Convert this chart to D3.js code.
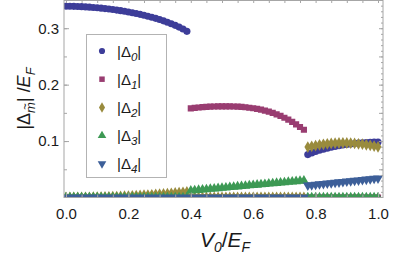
<!DOCTYPE html>
<html>
<head>
<meta charset="utf-8">
<script src="https://cdn.jsdelivr.net/npm/d3@7"></script>
<style>
  html, body { margin: 0; padding: 0; background: #fff; }
  svg { display: block; font-family: "Liberation Sans", Arial, sans-serif; }
</style>
</head>
<body>
<script>
// V0/EF sample points
const xs = [0,0.0125,0.025,0.0375,0.05,0.0625,0.075,0.0875,0.1,0.1125,0.125,0.1375,0.15,0.1625,0.175,0.1875,
  0.2,0.2125,0.225,0.2375,0.25,0.2625,0.275,0.2875,0.3,0.3125,0.325,0.3375,0.35,0.3625,0.375,0.3875,
  0.4,0.4125,0.425,0.4375,0.45,0.4625,0.475,0.4875,0.5,0.5125,0.525,0.5375,0.55,0.5625,0.575,0.5875,
  0.6,0.6125,0.625,0.6375,0.65,0.6625,0.675,0.6875,0.7,0.7125,0.725,0.7375,0.75,0.7625,
  0.775,0.7875,0.8,0.8125,0.825,0.8375,0.85,0.8625,0.875,0.8875,0.9,0.9125,0.925,0.9375,0.95,0.9625,0.975,0.9875,1];

// |Delta_m| / EF for m = 0..4
const delta0 = [0.339,0.339,0.3388,0.3385,0.3382,0.3378,0.3373,0.3368,0.3362,0.3355,0.3348,0.334,0.3331,0.3321,0.3311,0.33,
  0.3288,0.3275,0.3261,0.3246,0.323,0.3213,0.3195,0.3175,0.3154,0.3131,0.3106,0.308,0.3051,0.302,0.2986,0.2945,
  0,0,0,0,0,0,0,0,0,0,0,0,0,0,0,0,0,0,0,0,0,0,0,0,0,0,0,0,0,0,
  0.076,0.079,0.0815,0.0837,0.0857,0.0875,0.0891,0.0905,0.0918,0.093,0.094,0.0949,0.0957,0.0964,0.097,0.0975,0.0979,0.0982,0.0984];
const delta1 = [0,0,0,0,0,0,0,0,0,0,0,0,0,0,0,0,0,0,0,0,0,0,0,0,0,0,0,0,0,0,0,0,
  0.158,0.1588,0.1595,0.1601,0.1606,0.161,0.1613,0.1615,0.1616,0.1616,0.1615,0.1613,0.161,0.1605,0.1599,0.1591,
  0.1582,0.157,0.1556,0.154,0.1521,0.1499,0.1474,0.1446,0.1414,0.1379,0.134,0.1297,0.125,0.12,
  0,0,0,0,0,0,0,0,0,0,0,0,0,0,0,0,0,0,0];
const delta2 = [0,0,0.0001,0.0001,0.0002,0.0003,0.0004,0.0005,0.0007,0.0008,0.001,0.0012,0.0014,0.0017,0.0019,0.0022,
  0.0025,0.0029,0.0032,0.0036,0.004,0.0044,0.0048,0.0053,0.0058,0.0063,0.0068,0.0074,0.008,0.0086,0.0092,0.0098,
  0,0,0,0,0,0,0,0,0,0,0,0,0,0,0,0,0,0,0,0,0,0,0,0,0,0,0,0,0,0,
  0.0893,0.0908,0.0921,0.0933,0.0943,0.0951,0.0958,0.0963,0.0966,0.0967,0.0966,0.0963,0.0958,0.0952,0.0944,0.0935,0.0924,0.0912,0.0898];
const delta3 = [0,0,0,0,0,0,0,0,0,0,0,0,0,0,0,0,0,0,0,0,0,0,0,0,0,0,0,0,0,0,0,0,
  0.012,0.0126,0.0132,0.0138,0.0145,0.0151,0.0157,0.0163,0.0169,0.0176,0.0182,0.0188,0.0194,0.02,0.0207,
  0.0213,0.0219,0.0225,0.0231,0.0238,0.0244,0.025,0.0256,0.0262,0.0269,0.0275,0.0281,0.0287,0.0293,0.03,
  0,0,0,0,0,0,0,0,0,0,0,0,0,0,0,0,0,0,0];
const delta4 = [0,0,0,0,0,0,0,0,0,0,0,0,0,0,0,0,0,0,0,0,0,0,0,0,0,0,0,0,0,0,0,0,
  0,0,0,0,0,0,0,0,0,0,0,0,0,0,0,0,0,0,0,0,0,0,0,0,0,0,0,0,0,0,
  0.0215,0.0222,0.0229,0.0236,0.0243,0.025,0.0257,0.0264,0.0271,0.0278,0.0285,0.0292,0.0299,0.0306,0.0313,0.032,0.0327,0.0334,0.0341];

const seriesNames = ["0", "1", "2", "3", "4"];
const xTickLabels = [0, 0.2, 0.4, 0.6, 0.8, 1.0];
const yTickLabels = [0.1, 0.2, 0.3];

// layout
const width = 415, height = 258;
const pLeft = 64, pRight = 383, pTop = 0, pBottom = 197.5;
const colors = ["#3d3d99", "#993d71", "#998b3d", "#3d9954", "#3d5f99"];
const shapes = [
  {type: d3.symbolCircle, size: 40, rot: 0},
  {type: d3.symbolSquare, size: 38, rot: 0},
  {type: d3.symbolDiamond, size: 40, rot: 0},
  {type: d3.symbolTriangle, size: 42, rot: 0},
  {type: d3.symbolTriangle, size: 42, rot: 180}
];
const legendSizes = [30, 30, 32, 32, 32];

const x = d3.scaleLinear().domain([-0.0064, 1.016]).range([pLeft, pRight]);
const y = d3.scaleLinear().domain([0, 0.35]).range([pBottom, pTop]);

const svg = d3.select("body").append("svg")
  .attr("width", width)
  .attr("height", height);

svg.append("defs").append("clipPath").attr("id", "plotclip")
  .append("rect")
  .attr("x", pLeft).attr("y", pTop)
  .attr("width", pRight - pLeft).attr("height", pBottom - pTop);

const allSeries = [delta0, delta1, delta2, delta3, delta4];

const plot = svg.append("g").attr("clip-path", "url(#plotclip)");
allSeries.forEach((vals, s) => {
  const sym = d3.symbol().type(shapes[s].type).size(shapes[s].size);
  plot.append("g")
    .selectAll("path")
    .data(vals.map((v, i) => [xs[i], v]))
    .join("path")
      .attr("d", sym)
      .attr("fill", colors[s])
      .attr("transform", d => `translate(${x(d[0])},${y(d[1])}) rotate(${shapes[s].rot})`);
});

// frame + ticks
const frameColor = "#a6a6a6";
function styleAxis(g) {
  g.select(".domain").remove();
  g.selectAll(".tick line").attr("stroke", frameColor);
  g.selectAll(".tick text").attr("fill", "#1a1a1a").style("font-size", "15px");
}

const minorX = d3.range(0, 21).map(i => i * 0.05);
const minorY = d3.range(1, 7).map(i => i * 0.05);
const fineY = d3.range(1, 35).map(i => i * 0.01);

svg.append("g").attr("transform", `translate(0,${pBottom})`)
  .call(d3.axisBottom(x).tickValues(minorX).tickSizeInner(-3).tickFormat(""))
  .call(styleAxis);
svg.append("g").attr("transform", `translate(0,${pBottom})`)
  .call(d3.axisBottom(x).tickValues(xTickLabels).tickSizeInner(-5).tickPadding(11).tickFormat(d3.format(".1f")))
  .call(styleAxis);
svg.append("g").attr("transform", `translate(0,${pTop})`)
  .call(d3.axisTop(x).tickValues(minorX).tickSizeInner(-3).tickFormat(""))
  .call(styleAxis);
svg.append("g").attr("transform", `translate(${pLeft},0)`)
  .call(d3.axisLeft(y).tickValues(minorY).tickSizeInner(-3).tickFormat(""))
  .call(styleAxis);
svg.append("g").attr("transform", `translate(${pLeft},0)`)
  .call(d3.axisLeft(y).tickValues(yTickLabels).tickSizeInner(-5).tickPadding(5).tickFormat(d3.format(".1f")))
  .call(styleAxis);
svg.append("g").attr("transform", `translate(${pRight},0)`)
  .call(d3.axisRight(y).tickValues(fineY).tickSizeInner(-2).tickFormat(""))
  .call(styleAxis);
svg.append("g").attr("transform", `translate(${pRight},0)`)
  .call(d3.axisRight(y).tickValues(minorY).tickSizeInner(-4).tickFormat(""))
  .call(styleAxis);

svg.append("rect")
  .attr("x", pLeft).attr("y", pTop + 0.5)
  .attr("width", pRight - pLeft).attr("height", pBottom - pTop - 0.5)
  .attr("fill", "none")
  .attr("stroke", frameColor);

// legend
const legend = svg.append("g");
legend.append("rect")
  .attr("x", 86.5).attr("y", 34.5)
  .attr("width", 80).attr("height", 143)
  .attr("fill", "#fff")
  .attr("stroke", "#b3b3b3");

const rows = legend.selectAll(".row")
  .data(seriesNames)
  .join("g")
    .attr("class", "row")
    .attr("transform", (d, i) => `translate(0,${51 + i * 28.2})`);

rows.append("path")
  .attr("d", (d, i) => d3.symbol().type(shapes[i].type).size(legendSizes[i])())
  .attr("fill", (d, i) => colors[i])
  .attr("transform", (d, i) => `translate(102,0) rotate(${shapes[i].rot})`);

const lt = rows.append("text")
  .attr("x", 117)
  .attr("y", 5.5)
  .style("font-size", "15px")
  .attr("fill", "#1a1a1a");
lt.append("tspan").text("|\u0394");
lt.append("tspan").attr("dy", 4).style("font-size", "11.5px").style("font-style", "italic").text(d => d);
lt.append("tspan").attr("dy", -4).text("|");

// axis titles
const xt = svg.append("text")
  .attr("x", 225).attr("y", 246.5)
  .attr("text-anchor", "middle")
  .style("font-size", "21px")
  .attr("fill", "#1a1a1a");
xt.append("tspan").style("font-style", "italic").text("V");
xt.append("tspan").attr("dy", 5).style("font-style", "italic").style("font-size", "14px").text("0");
xt.append("tspan").attr("dy", -5).text("/");
xt.append("tspan").style("font-style", "italic").text("E");
xt.append("tspan").attr("dy", 5).style("font-style", "italic").style("font-size", "14px").text("F");

const ytg = svg.append("g").attr("transform", "translate(30,98.5) rotate(-90)");
const yt = ytg.append("text")
  .attr("text-anchor", "middle")
  .style("font-size", "18px")
  .attr("fill", "#1a1a1a");
yt.append("tspan").text("|\u0394");
const msub = yt.append("tspan").attr("dy", 5).style("font-style", "italic").style("font-size", "13px").text("m");
yt.append("tspan").attr("dy", -5).text("| /");
yt.append("tspan").style("font-style", "italic").text("E");
yt.append("tspan").attr("dy", 5).style("font-style", "italic").style("font-size", "13px").text("F");

// tilde over the subscript m
const mIndex = 2;
const ext = yt.node().getExtentOfChar(mIndex);
ytg.append("text")
  .attr("x", ext.x + ext.width / 2 + 1)
  .attr("y", -1)
  .attr("text-anchor", "middle")
  .style("font-size", "11px")
  .attr("fill", "#1a1a1a")
  .text("~");
</script>
</body>
</html>
